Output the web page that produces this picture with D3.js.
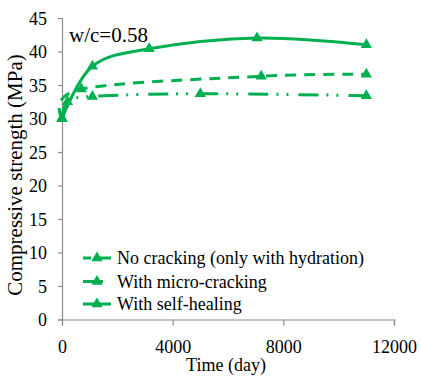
<!DOCTYPE html>
<html>
<head>
<meta charset="utf-8">
<script src="https://cdn.jsdelivr.net/npm/d3@7"></script>
<style>
body { margin: 0; background: #fff; }
svg { display: block; }
</style>
</head>
<body>
<svg id="chart" width="421" height="377" font-family="Liberation Serif"></svg>
<script>
// Data
const seriesNames = ["No cracking (only with hydration)", "With micro-cracking", "With self-healing"];
const noCrackDays = [0, 700, 7200, 11000];
const noCrackValues = [30, 34.4, 36.3, 36.6];
const microDays = [0, 200, 1100, 5000, 11000];
const microValues = [30, 32.5, 33.3, 33.7, 33.4];
const healDays = [0, 1100, 3150, 7050, 11000];
const healValues = [30, 37.8, 40.4, 42.0, 41.0];
const xTicks = [0, 4000, 8000, 12000];
const yTicks = [0, 5, 10, 15, 20, 25, 30, 35, 40, 45];
const annotation = "w/c=0.58";

const FONT = "Liberation Serif";
const green = "#00B050";
const svg = d3.select("#chart");
const x = d3.scaleLinear().domain([0, 12000]).range([62, 394]);
const y = d3.scaleLinear().domain([0, 45]).range([319.5, 18]);

// Axes
const xAxis = svg.append("g").attr("transform", `translate(0,${y(0)})`)
  .call(d3.axisBottom(x).tickValues(xTicks).tickSize(6).tickPadding(10).tickFormat(d3.format("d")));
const yAxis = svg.append("g").attr("transform", `translate(${x(0)},0)`)
  .call(d3.axisLeft(y).tickValues(yTicks).tickSize(4).tickPadding(11));
[xAxis, yAxis].forEach(g => {
  g.attr("font-family", FONT).attr("font-size", 18);
  g.select(".domain").attr("stroke", "#8c8c8c").attr("stroke-width", 1.2);
  g.selectAll(".tick line").attr("stroke", "#8c8c8c").attr("stroke-width", 1.2);
  g.selectAll(".tick text").attr("font-family", FONT).attr("font-size", 18).attr("fill", "#000");
});
xAxis.selectAll(".tick text").attr("dy", "0.95em");
yAxis.selectAll(".tick text").attr("dy", "0.34em");

// Titles
svg.append("text").attr("x", 226).attr("y", 371).attr("text-anchor", "middle")
  .attr("font-family", FONT).attr("font-size", 18).text("Time (day)");
svg.append("text").attr("transform", "translate(22,175) rotate(-90)").attr("text-anchor", "middle")
  .attr("font-family", FONT).attr("font-size", 21).text("Compressive strength (MPa)");
svg.append("text").attr("x", 69).attr("y", 42)
  .attr("font-family", FONT).attr("font-size", 21).text(annotation);

// Series
const styles = [
  { dash: "11,8", width: 3 },
  { dash: "20,8,2,8,2,10", width: 3 },
  { dash: null, width: 3 }
];
const series = [
  { days: noCrackDays, values: noCrackValues },
  { days: microDays, values: microValues },
  { days: healDays, values: healValues }
];
const line = d3.line().x(d => x(d[0])).y(d => y(d[1])).curve(d3.curveCardinal.tension(0));
const tri = d3.symbol().type(d3.symbolTriangle).size(55);

series.forEach((s, i) => {
  const pts = s.days.map((d, j) => [d, s.values[j]]);
  svg.append("path").datum(pts).attr("d", line).attr("fill", "none")
    .attr("stroke", green).attr("stroke-width", styles[i].width)
    .attr("stroke-dasharray", styles[i].dash);
  svg.append("g").selectAll("path").data(pts).join("path")
    .attr("d", tri).attr("fill", green)
    .attr("transform", d => `translate(${x(d[0])},${y(d[1])})`);
});

// Legend
const legY = [258, 281.5, 304];
seriesNames.forEach((name, i) => {
  const g = svg.append("g").attr("transform", `translate(0,${legY[i]})`);
  g.append("line").attr("x1", 83).attr("x2", 111).attr("y1", 0).attr("y2", 0)
    .attr("stroke", green).attr("stroke-width", 3)
    .attr("stroke-dasharray", i === 0 ? "8,4,16" : (i === 1 ? "20,8,2,10" : null));
  g.append("path").attr("d", tri).attr("fill", green).attr("transform", "translate(97,0)");
  g.append("text").attr("x", 117).attr("y", 6)
    .attr("font-family", FONT).attr("font-size", 18).text(name);
});
</script>
</body>
</html>
